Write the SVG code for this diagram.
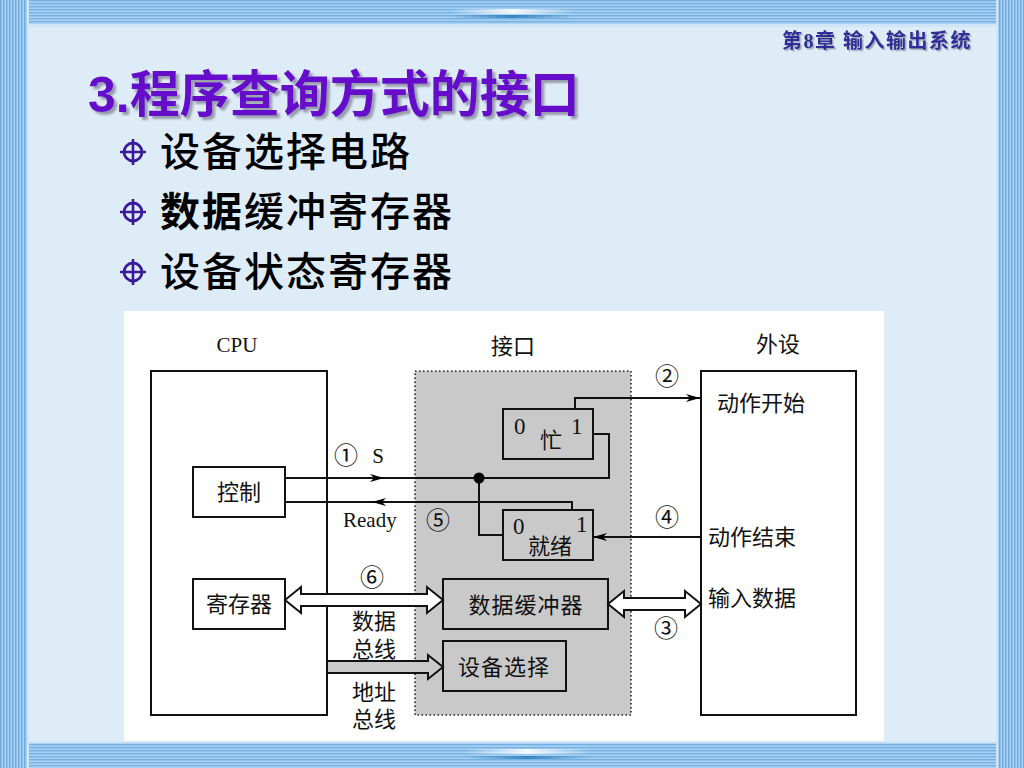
<svg xmlns="http://www.w3.org/2000/svg" width="1024" height="768" viewBox="0 0 1024 768">
<defs>
<pattern id="hstripe" patternUnits="userSpaceOnUse" width="8" height="3">
<rect width="8" height="3" fill="#a9d2f2"/><rect width="8" height="1.4" fill="#74b0e2"/>
</pattern>
<pattern id="vstripe" patternUnits="userSpaceOnUse" width="3" height="8">
<rect width="3" height="8" fill="#a9d2f2"/><rect width="1.4" height="8" fill="#6eaadf"/>
</pattern>
<linearGradient id="hl" x1="0" x2="1" y1="0" y2="0">
<stop offset="0" stop-color="#ffffff" stop-opacity="0"/>
<stop offset="0.5" stop-color="#ffffff" stop-opacity="0.9"/>
<stop offset="1" stop-color="#ffffff" stop-opacity="0"/>
</linearGradient>
<linearGradient id="hd" x1="0" x2="1" y1="0" y2="0">
<stop offset="0" stop-color="#2a7fc0" stop-opacity="0"/>
<stop offset="0.5" stop-color="#2a7fc0" stop-opacity="0.9"/>
<stop offset="1" stop-color="#2a7fc0" stop-opacity="0"/>
</linearGradient>
<filter id="shadow" x="-5%" y="-20%" width="110%" height="150%">
<feDropShadow dx="3" dy="3" stdDeviation="1" flood-color="#7a7a8a" flood-opacity="0.7"/>
</filter>
<filter id="shadow2" x="-5%" y="-20%" width="110%" height="150%">
<feDropShadow dx="1.5" dy="1.5" stdDeviation="0.6" flood-color="#8a8a9a" flood-opacity="0.7"/>
</filter>
<marker id="ah" viewBox="0 0 14 8" refX="14" refY="4" markerWidth="14" markerHeight="8" markerUnits="userSpaceOnUse" orient="auto">
<path d="M0,0 L14,4 L0,8 L4,4 z" fill="#000"/>
</marker>
<g id="bullet">
<circle cx="0" cy="0" r="9" fill="none" stroke="#3a1a9a" stroke-width="2.8"/>
<path d="M-13,0 H13 M0,-13 V13" stroke="#3a1a9a" stroke-width="2.6"/>
</g>
</defs>
<style>
.box{fill:#fff;stroke:#111;stroke-width:2}
.gbox{fill:#c9c9c9;stroke:#111;stroke-width:2}
.ln{fill:none;stroke:#111;stroke-width:2}
.cj{font-family:"Liberation Serif","Noto Sans CJK SC",serif;font-size:22px;fill:#111}
.lat{font-family:"Liberation Serif","Noto Sans CJK SC",serif;font-size:21px;fill:#111}
.dig{font-family:"Liberation Serif",serif;font-size:23px;fill:#111}
.num{font-family:"Noto Sans CJK SC","DejaVu Sans",sans-serif;font-size:24px;fill:#111}
.mid{text-anchor:middle}
.bul{font-family:"Noto Sans CJK SC",sans-serif;font-size:40px;font-weight:500;fill:#000}
</style>

<!-- background -->
<rect width="1024" height="768" fill="#deecf8"/>
<rect x="0" y="0" width="1024" height="27" fill="url(#hstripe)"/>
<rect x="0" y="741" width="1024" height="27" fill="url(#hstripe)"/>
<rect x="0" y="24" width="1024" height="3" fill="#cfe6f8"/>
<rect x="0" y="741" width="1024" height="2" fill="#cfe6f8"/>
<rect x="450" y="9" width="125" height="5" fill="url(#hl)"/>
<rect x="450" y="15" width="125" height="3" fill="url(#hd)"/>
<rect x="465" y="749" width="125" height="5" fill="url(#hl)"/>
<rect x="465" y="756" width="125" height="3" fill="url(#hd)"/>
<rect x="0" y="0" width="29" height="768" fill="url(#vstripe)"/>
<rect x="996" y="0" width="28" height="768" fill="url(#vstripe)"/>
<rect x="27" y="0" width="2" height="768" fill="#cfe6f8"/>
<rect x="996" y="0" width="2" height="768" fill="#cfe6f8"/>

<!-- header and title -->
<text x="972" y="48" text-anchor="end" font-family="Liberation Serif,'Noto Sans CJK SC',serif" font-size="20" font-weight="bold" fill="#2f2f9a" letter-spacing="1.5" filter="url(#shadow2)">第8章 输入输出系统</text>
<text x="88" y="112" font-family="Liberation Sans,'Noto Sans CJK SC',sans-serif" font-size="50" font-weight="bold" fill="#6611cc" filter="url(#shadow)">3.程序查询方式的接口</text>

<!-- bullets -->
<use href="#bullet" x="133" y="152"/>
<use href="#bullet" x="133" y="212"/>
<use href="#bullet" x="133" y="272"/>
<text class="bul" x="160" y="166" letter-spacing="2">设备选择电路</text>
<text class="bul" x="160" y="226" letter-spacing="2"><tspan font-weight="bold">数据</tspan>缓冲寄存器</text>
<text class="bul" x="160" y="286" letter-spacing="2">设备状态寄存器</text>

<!-- diagram panel -->
<rect x="124" y="311" width="760" height="430" fill="#fff"/>

<text class="lat mid" x="237" y="352">CPU</text>
<text class="cj mid" x="513" y="354">接口</text>
<text class="cj mid" x="778" y="352">外设</text>

<g id="cpu"><rect class="box" x="151" y="371" width="176" height="344"/></g>
<g id="interface"><rect x="415" y="371" width="216" height="344" fill="#c9c9c9" stroke="#222" stroke-width="1.6" stroke-dasharray="1.5 2.5"/></g>
<g id="device">
<rect class="box" x="701" y="371" width="155" height="344"/>
<text class="cj" x="717" y="411">动作开始</text>
<text class="cj" x="708" y="545">动作结束</text>
<text class="cj" x="708" y="606">输入数据</text>
</g>
<g id="control"><rect class="box" x="193" y="467" width="92" height="50"/><text class="cj mid" x="239" y="500">控制</text></g>
<g id="register"><rect class="box" x="193" y="579" width="92" height="50"/><text class="cj mid" x="239" y="612">寄存器</text></g>
<g id="busy">
<rect class="gbox" x="503" y="409" width="90" height="50"/>
<text class="dig" x="514" y="434">0</text>
<text class="cj mid" x="551" y="448">忙</text>
<text class="dig" x="571" y="434">1</text>
</g>
<g id="ready">
<rect class="gbox" x="503" y="510" width="90" height="50"/>
<text class="dig" x="513" y="534">0</text>
<text class="cj mid" x="550" y="554">就绪</text>
<text class="dig" x="576" y="532">1</text>
</g>
<g id="databuffer"><rect class="gbox" x="443" y="579" width="165" height="50"/><text class="cj mid" x="526" y="613" letter-spacing="1">数据缓冲器</text></g>
<g id="devselect"><rect class="gbox" x="443" y="641" width="123" height="50"/><text class="cj mid" x="504" y="675" letter-spacing="1">设备选择</text></g>

<g id="connectors">
<path class="ln" d="M285,478 L384,478" marker-end="url(#ah)"/>
<path class="ln" d="M384,478 L609,478 L609,434 L593,434"/>
<path class="ln" d="M479,478 L479,535 L503,535"/>
<circle cx="479" cy="478" r="5.5" fill="#000"/>
<path class="ln" d="M572,510 L572,502 L372,502" marker-end="url(#ah)"/>
<path class="ln" d="M372,502 L285,502"/>
<path class="ln" d="M575,409 L575,398 L700,398" marker-end="url(#ah)"/>
<path class="ln" d="M701,537 L593,537" marker-end="url(#ah)"/>
<polygon points="285,600 301,587 301,594 427,594 427,587 443,600 427,613 427,606 301,606 301,613" fill="#fff" stroke="#111" stroke-width="2" stroke-linejoin="miter"/>
<polygon points="608,604 624,591 624,598 685,598 685,591 701,604 685,617 685,610 624,610 624,617" fill="#fff" stroke="#111" stroke-width="2"/>
<polygon points="327,661 428,661 428,655 443,667 428,679 428,673 327,673" fill="#c9c9c9" stroke="#111" stroke-width="2"/>
</g>

<g id="labels">
<text class="num mid" x="346" y="464">①</text>
<text class="lat mid" x="378" y="463">S</text>
<text class="lat" x="343" y="527">Ready</text>
<text class="num mid" x="438" y="529">⑤</text>
<text class="num mid" x="667" y="385">②</text>
<text class="num mid" x="667" y="526">④</text>
<text class="num mid" x="372" y="586">⑥</text>
<text class="num mid" x="666" y="637">③</text>
<text class="cj mid" x="374" y="629">数据</text>
<text class="cj mid" x="374" y="657">总线</text>
<text class="cj mid" x="374" y="700">地址</text>
<text class="cj mid" x="374" y="727">总线</text>
</g>
</svg>
